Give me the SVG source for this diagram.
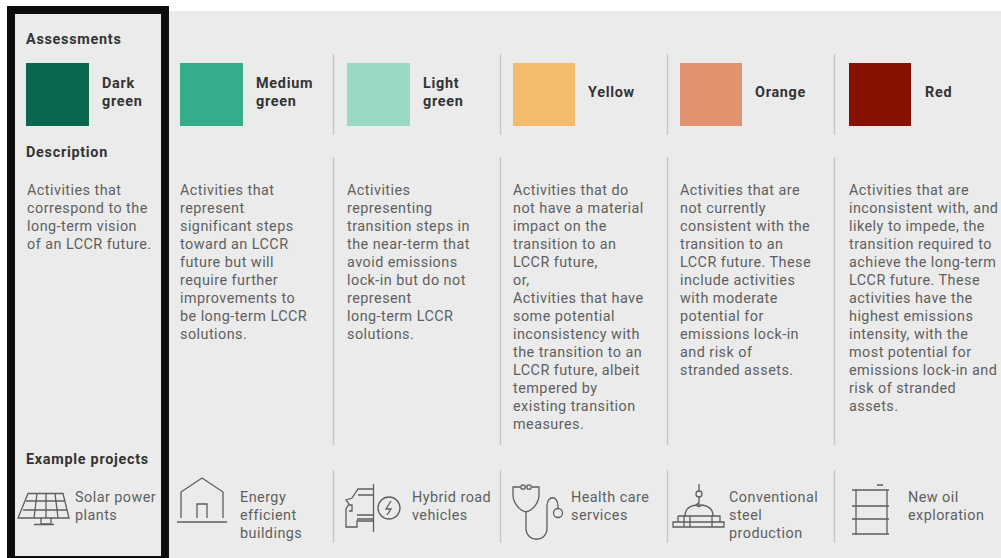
<svg xmlns="http://www.w3.org/2000/svg" width="1001" height="558" viewBox="0 0 1001 558">
<style>
text{font-family:"Roboto","Liberation Sans",sans-serif;font-size:14.4px;fill:#5f5f5f;letter-spacing:.46px}
.b{font-weight:700;fill:#333;letter-spacing:.72px}
.d{stroke:#c6c6c6;stroke-width:1.4;fill:none}
.i{stroke:#5e5e5e;stroke-width:1.3;fill:none}
</style>
<rect x="0" y="0" width="1001" height="558" fill="#fff"/>
<rect x="169" y="11" width="832" height="547" fill="#ebebeb"/>
<g id="connectors">
<path class="d" d="M333.500 54V135M333.500 157V445M333.500 470V543M500.500 54V135M500.500 157V445M500.500 470V543M667.500 54V135M667.500 157V445M667.500 470V543M834.500 54V135M834.500 157V445M834.500 470V543"/>
</g>
<g id="frame"><rect x="11" y="10" width="154" height="550" fill="#ebebeb" stroke="#0c0c0c" stroke-width="8"/></g>
<g id="headings"><text class="b" x="26" y="44">Assessments</text><text class="b" x="26" y="157">Description</text><text class="b" x="26" y="464">Example projects</text></g>
<g id="dark-green"><rect x="26" y="63" width="63" height="63" fill="#0b664f"/><text class="b" x="102" y="88">Dark</text><text class="b" x="102" y="106">green</text>
<text x="27" y="195">Activities that</text><text x="27" y="213">correspond to the</text><text x="27" y="231">long-term vision</text><text x="27" y="249">of an LCCR future.</text>
<path class="i" d="M28 493.500H63L69 518H18ZM26 501H65M23 510H67M37 493.500L34 518M46 493.500V518M55 493.500L58 518M41 518V524H51V518M34 524.500H54"/><text x="75" y="502">Solar power</text><text x="75" y="520">plants</text></g>
<g id="medium-green"><rect x="180" y="63" width="63" height="63" fill="#33ad8b"/><text class="b" x="256" y="88">Medium</text><text class="b" x="256" y="106">green</text>
<text x="180" y="195">Activities that</text><text x="180" y="213">represent</text><text x="180" y="231">significant steps</text><text x="180" y="249">toward an LCCR</text><text x="180" y="267">future but will</text><text x="180" y="285">require further</text><text x="180" y="303">improvements to</text><text x="180" y="321">be long-term LCCR</text><text x="180" y="339">solutions.</text>
<path class="i" d="M181 518V492L202 478L223 492V518M197 518V504H207V518"/><path class="i" d="M177 522H227" stroke-width="1.6"/><text x="240" y="502">Energy</text><text x="240" y="520">efficient</text><text x="240" y="538">buildings</text></g>
<g id="light-green"><rect x="347" y="63" width="63" height="63" fill="#9ad8c6"/><text class="b" x="423" y="88">Light</text><text class="b" x="423" y="106">green</text>
<text x="347" y="195">Activities</text><text x="347" y="213">representing</text><text x="347" y="231">transition steps in</text><text x="347" y="249">the near-term that</text><text x="347" y="267">avoid emissions</text><text x="347" y="285">lock-in but do not</text><text x="347" y="303">represent</text><text x="347" y="321">long-term LCCR</text><text x="347" y="339">solutions.</text>
<path class="i" d="M373.500 484V532M373 489H358L352 498L346 500L349 504L346 509V527H357V521H373M358 495H373M349 505H352V511H349M357 515H373M357 519H373"/><circle class="i" cx="389" cy="508" r="11"/><path class="i" d="M391 501L386 509H391L387 515"/><text x="412" y="502">Hybrid road</text><text x="412" y="520">vehicles</text></g>
<g id="yellow"><rect x="513" y="63" width="62" height="63" fill="#f5bb6c"/><text class="b" x="588" y="97">Yellow</text>
<text x="513" y="195">Activities that do</text><text x="513" y="213">not have a material</text><text x="513" y="231">impact on the</text><text x="513" y="249">transition to an</text><text x="513" y="267">LCCR future,</text><text x="513" y="285">or,</text><text x="513" y="303">Activities that have</text><text x="513" y="321">some potential</text><text x="513" y="339">inconsistency with</text><text x="513" y="357">the transition to an</text><text x="513" y="375">LCCR future, albeit</text><text x="513" y="393">tempered by</text><text x="513" y="411">existing transition</text><text x="513" y="429">measures.</text>
<path class="i" d="M520 487H513V495C513 503 520 511 526 512C532 511 539 503 539 495V487H532M526 512V528C526 543 547 543 547 528V506C547 495 558 495 558 506V508"/><circle class="i" cx="558" cy="513" r="4.500"/><circle class="i" cx="523" cy="487" r="2.200"/><circle class="i" cx="529" cy="487" r="2.200"/><text x="571" y="502">Health care</text><text x="571" y="520">services</text></g>
<g id="orange"><rect x="680" y="63" width="62" height="63" fill="#e1936f"/><text class="b" x="755" y="97">Orange</text>
<text x="680" y="195">Activities that are</text><text x="680" y="213">not currently</text><text x="680" y="231">consistent with the</text><text x="680" y="249">transition to an</text><text x="680" y="267">LCCR future. These</text><text x="680" y="285">include activities</text><text x="680" y="303">with moderate</text><text x="680" y="321">potential for</text><text x="680" y="339">emissions lock-in</text><text x="680" y="357">and risk of</text><text x="680" y="375">stranded assets.</text>
<path class="i" d="M699 484V491M699 497V503C695 504 697 508 701 506M685 516C685 507 692 505 699 505C706 505 713 507 713 516M678 516V522M673 522H724V527H673ZM678 516H720V522M684 516V527M690 516V527M712 516V527"/><circle class="i" cx="699" cy="494" r="3"/><text x="729" y="502">Conventional</text><text x="729" y="520">steel</text><text x="729" y="538">production</text></g>
<g id="red"><rect x="849" y="63" width="62" height="63" fill="#871102"/><text class="b" x="925" y="97">Red</text>
<text x="849" y="195">Activities that are</text><text x="849" y="213">inconsistent with, and</text><text x="849" y="231">likely to impede, the</text><text x="849" y="249">transition required to</text><text x="849" y="267">achieve the long-term</text><text x="849" y="285">LCCR future. These</text><text x="849" y="303">activities have the</text><text x="849" y="321">highest emissions</text><text x="849" y="339">intensity, with the</text><text x="849" y="357">most potential for</text><text x="849" y="375">emissions lock-in and</text><text x="849" y="393">risk of stranded</text><text x="849" y="411">assets.</text>
<path class="i" d="M877 485H883M852 490H889M852 506H889M852 519H889M852 534H889M856 490V534M887 490V534"/><text x="908" y="502">New oil</text><text x="908" y="520">exploration</text></g>
</svg>
